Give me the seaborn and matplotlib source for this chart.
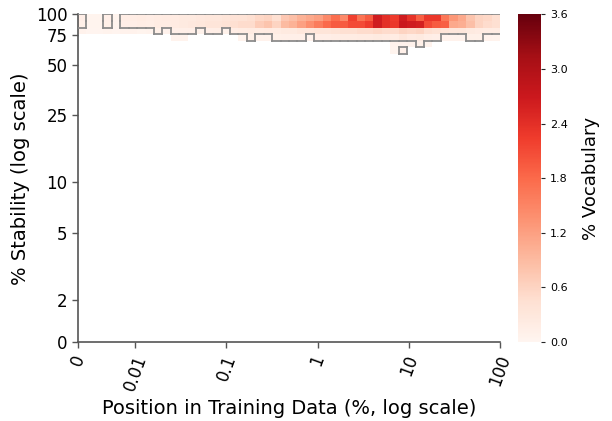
import numpy as np
import matplotlib
matplotlib.use('Agg')
import matplotlib.pyplot as plt
from matplotlib.scale import SymmetricalLogTransform
from matplotlib.collections import LineCollection
import seaborn as sns

# 50 x 50 bins, evenly spaced on the (symlog) axes; only the top rows hold data
n_bins = 50

# % vocabulary per bin, top row (stability ~91-100%) first, columns = position bins
row0_vals = [0.15, 0.03, 0.03, 0.14, 0.04, 0.18, 0.18, 0.20, 0.18, 0.20,
             0.22, 0.22, 0.25, 0.25, 0.28, 0.30, 0.30, 0.35, 0.38, 0.40,
             0.45, 0.55, 0.60, 0.45, 0.75, 0.85, 1.00, 1.10, 1.20, 1.45,
             1.75, 1.45, 2.20, 1.70, 1.95, 2.65, 2.40, 2.25, 2.65, 2.35,
             1.90, 2.30, 2.30, 1.65, 1.30, 1.10, 0.80, 0.60, 0.55, 0.45]
row1_vals = [0.12, 0.03, 0.03, 0.12, 0.04, 0.15, 0.15, 0.18, 0.16, 0.20,
             0.20, 0.22, 0.25, 0.28, 0.30, 0.35, 0.35, 0.40, 0.45, 0.50,
             0.50, 0.70, 0.80, 0.60, 0.90, 1.00, 1.20, 1.40, 1.60, 1.80,
             1.95, 1.95, 2.10, 2.10, 2.25, 2.65, 2.40, 2.30, 2.70, 2.65,
             2.60, 2.10, 1.95, 1.90, 1.10, 1.05, 0.85, 0.60, 0.50, 0.45]
row2_vals = [0.06, 0.02, 0.02, 0.05, 0.02, 0.06, 0.06, 0.04, 0.05, 0.12,
             0.07, 0.13, 0.14, 0.14, 0.08, 0.15, 0.16, 0.08, 0.18, 0.20,
             0.22, 0.20, 0.22, 0.20, 0.25, 0.25, 0.30, 0.30, 0.35, 0.35,
             0.40, 0.45, 0.45, 0.50, 0.50, 0.55, 0.50, 0.50, 0.60, 0.55,
             0.60, 0.45, 0.40, 0.35, 0.30, 0.30, 0.25, 0.22, 0.20, 0.20]
row3_vals = [0.00, 0.00, 0.00, 0.00, 0.00, 0.00, 0.00, 0.00, 0.00, 0.00,
             0.00, 0.05, 0.05, 0.00, 0.00, 0.00, 0.00, 0.00, 0.00, 0.05,
             0.12, 0.06, 0.06, 0.12, 0.13, 0.13, 0.14, 0.07, 0.15, 0.15,
             0.18, 0.20, 0.20, 0.22, 0.22, 0.25, 0.22, 0.20, 0.30, 0.22,
             0.25, 0.18, 0.15, 0.07, 0.06, 0.06, 0.12, 0.12, 0.06, 0.05]
row4_vals = [0.00] * 37 + [0.05, 0.07, 0.06, 0.12, 0.05] + [0.00] * 8
row5_vals = [0.00] * 37 + [0.03, 0.11] + [0.00] * 11

x_ticks = [0, 0.01, 0.1, 1, 10, 100]
x_ticklabels = ['0', '0.01', '0.1', '1', '10', '100']
y_ticks = [0, 2, 5, 10, 25, 50, 75, 100]
y_ticklabels = ['0', '2', '5', '10', '25', '50', '75', '100']
cbar_ticks = [0.0, 0.6, 1.2, 1.8, 2.4, 3.0, 3.6]
contour_level = 0.1

grid = np.zeros((n_bins, n_bins))
grid[:6] = np.array([row0_vals, row1_vals, row2_vals, row3_vals, row4_vals, row5_vals])

x_tf = SymmetricalLogTransform(base=10, linthresh=0.01, linscale=0.563)
y_tf = SymmetricalLogTransform(base=10, linthresh=2, linscale=0.228)


def to_bins(tf, vals, vmax):
    t = tf.transform_non_affine(np.asarray(vals, dtype=float))
    return n_bins * t / tf.transform_non_affine(np.array([vmax], dtype=float))[0]


sns.set_style('ticks')
plt.rcParams.update({'text.color': 'black', 'axes.labelcolor': 'black',
                     'xtick.labelcolor': 'black', 'ytick.labelcolor': 'black'})

fig = plt.figure(figsize=(6.12, 4.21), dpi=100)
ax = fig.add_axes([0.1275, 0.1876, 0.6895, 0.778])
cax = fig.add_axes([0.846, 0.1876, 0.038, 0.778])

sns.heatmap(grid, mask=grid == 0, cmap='Reds', vmin=0, vmax=3.6, ax=ax,
            cbar_ax=cax, xticklabels=False, yticklabels=False,
            cbar_kws={'ticks': cbar_ticks})

# outline of the populated region (step contour)
mask = grid >= contour_level
padded = np.vstack([np.zeros((1, n_bins), bool), mask, np.zeros((1, n_bins), bool)])
segs = []
for r in range(n_bins + 1):
    for c in range(n_bins):
        if padded[r, c] != padded[r + 1, c]:
            segs.append([(c, r), (c + 1, r)])
for c in range(1, n_bins):
    for r in range(n_bins):
        if mask[r, c - 1] != mask[r, c]:
            segs.append([(c, r), (c, r + 1)])
ax.add_collection(LineCollection(segs, colors='#8c8c8c', linewidths=1.3,
                                 capstyle='projecting', zorder=3))

ax.set_xlim(0, n_bins)
ax.set_ylim(n_bins, 0)
ax.set_xticks(to_bins(x_tf, x_ticks, 100))
ax.set_xticklabels(x_ticklabels, rotation=70, fontsize=12, color='black')
ax.set_yticks(n_bins - to_bins(y_tf, y_ticks, 100))
ax.set_yticklabels(y_ticklabels, rotation=0, fontsize=12, color='black')
ax.tick_params(axis='both', length=4, width=1, color='#555555', direction='out')

for side in ['left', 'bottom']:
    ax.spines[side].set_visible(True)
    ax.spines[side].set_color('#555555')
    ax.spines[side].set_linewidth(1.2)

ax.set_xlabel('Position in Training Data (%, log scale)', fontsize=14, color='black')
ax.set_ylabel('% Stability (log scale)', fontsize=14, color='black')

cax.tick_params(labelsize=8, length=3, labelcolor='black')
cax.set_ylabel('% Vocabulary', fontsize=13, labelpad=10, color='black')

fig.savefig('out.png', dpi=100)
